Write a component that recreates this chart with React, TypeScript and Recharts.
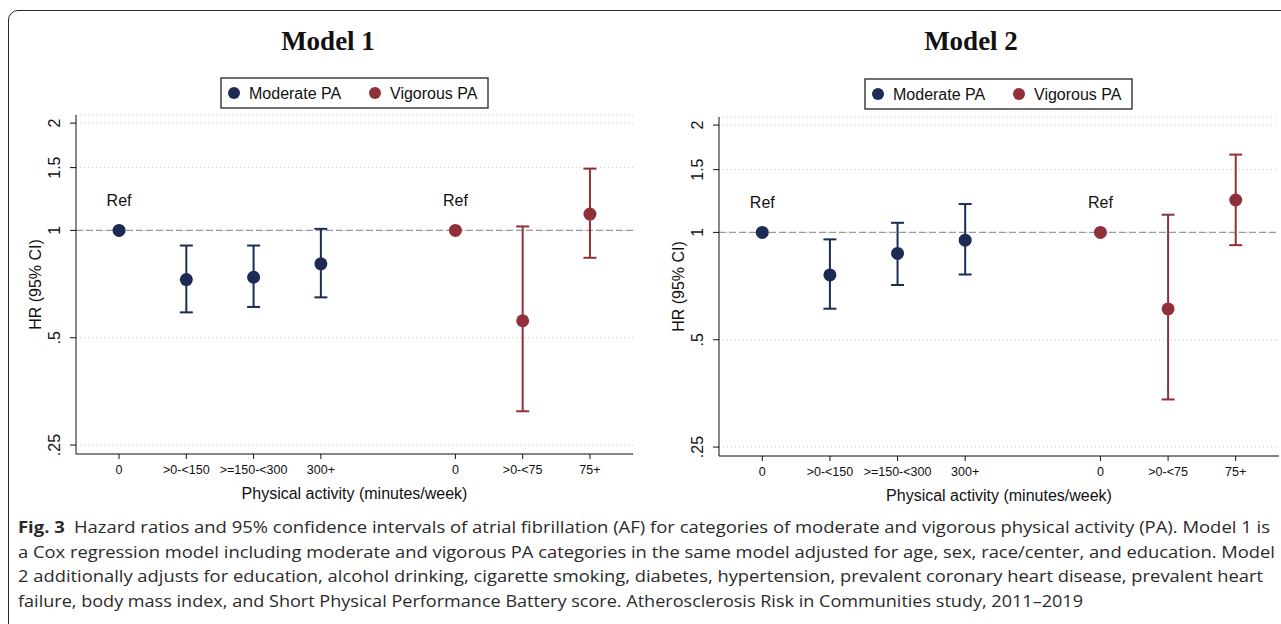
import React from 'react';
import { ComposedChart, Scatter, ErrorBar, XAxis, YAxis, CartesianGrid, ReferenceLine } from 'recharts';

// ---------- data ----------
const xCategories = ['0', '>0-<150', '>=150-<300', '300+', '0', '>0-<75', '75+'];
const xTicks = [1, 2, 3, 4, 6, 7, 8];
const moderateX = [1, 2, 3, 4];
const vigorousX = [6, 7, 8];
const yTicks = [0.25, 0.5, 1, 1.5, 2];
const yTickLabels = ['.25', '.5', '1', '1.5', '2'];
const legendNames = ['Moderate PA', 'Vigorous PA'];
const panelTitles = ['Model 1', 'Model 2'];

// Model 1
const m1ModerateHR = [1, 0.728, 0.739, 0.806];
const m1ModerateLo = [null, 0.589, 0.61, 0.649];
const m1ModerateHi = [null, 0.907, 0.907, 1.01];
const m1VigorousHR = [1, 0.558, 1.111];
const m1VigorousLo = [null, 0.311, 0.838];
const m1VigorousHi = [null, 1.026, 1.49];

// Model 2
const m2ModerateHR = [1, 0.76, 0.873, 0.951];
const m2ModerateLo = [null, 0.611, 0.712, 0.762];
const m2ModerateHi = [null, 0.956, 1.064, 1.201];
const m2VigorousHR = [1, 0.61, 1.233];
const m2VigorousLo = [null, 0.34, 0.921];
const m2VigorousHi = [null, 1.121, 1.653];

const captionLines = [
  'a Cox regression model including moderate and vigorous PA categories in the same model adjusted for age, sex, race/center, and education. Model',
  '2 additionally adjusts for education, alcohol drinking, cigarette smoking, diabetes, hypertension, prevalent coronary heart disease, prevalent heart',
  'failure, body mass index, and Short Physical Performance Battery score. Atherosclerosis Risk in Communities study, 2011\u20132019',
];
const captionBold = 'Fig. 3';
const captionFirst = 'Hazard ratios and 95% confidence intervals of atrial fibrillation (AF) for categories of moderate and vigorous physical activity (PA). Model 1 is';

// ---------- style ----------
const NAVY = '#1c2b56';
const MAROON = '#913039';
const SANS = "'Liberation Sans', Arial, sans-serif";
const SERIF = "'Liberation Serif', 'Times New Roman', serif";
const CAPTION_FONT = "'Open Sans', 'Noto Sans', sans-serif";

type Row = { x: number; y: number; err: number[] | null; ref: boolean };

function buildRows(xs: number[], hr: number[], lo: (number | null)[], hi: (number | null)[]): Row[] {
  return xs.map((x, i) => ({
    x,
    y: hr[i],
    err: lo[i] == null || hi[i] == null ? null : [hr[i] - (lo[i] as number), (hi[i] as number) - hr[i]],
    ref: lo[i] == null,
  }));
}

const makeShape = (color: string) => (props: any) => {
  const { cx, cy, payload } = props;
  if (cx == null || cy == null) return <g />;
  return (
    <g>
      <circle cx={cx} cy={cy} r={6.5} fill={color} />
      {payload && payload.ref ? (
        <text x={cx} y={cy - 24} textAnchor="middle" fontSize={16} fontFamily={SANS} fill="#111">
          Ref
        </text>
      ) : null}
    </g>
  );
};

const YTick = (props: any) => {
  const { x, y, payload } = props;
  const idx = yTicks.indexOf(payload.value);
  const tx = x - 8;
  return (
    <text x={tx} y={y} transform={`rotate(-90 ${tx} ${y})`} textAnchor="middle" fontSize={16} fontFamily={SANS} fill="#111">
      {idx >= 0 ? yTickLabels[idx] : String(payload.value)}
    </text>
  );
};

const xLabel = (v: number) => {
  const i = xTicks.indexOf(v);
  return i >= 0 ? xCategories[i] : '';
};

function Panel(props: { left: number; top: number; width: number; moderate: Row[]; vigorous: Row[] }) {
  const { left, top, width, moderate, vigorous } = props;
  return (
    <div style={{ position: 'absolute', left, top }}>
      <ComposedChart width={width} height={505} margin={{ top: 115, right: 27, bottom: 6, left: 0 }}>
        <CartesianGrid vertical={false} stroke="#c8c8c8" strokeDasharray="1 3" />
        <XAxis
          type="number"
          dataKey="x"
          domain={[0.36, 8.64]}
          ticks={xTicks}
          allowDataOverflow
          tickFormatter={xLabel}
          height={45}
          tickSize={5}
          tickMargin={6}
          stroke="#111"
          tick={{ fontSize: 12.5, fontFamily: SANS, fill: '#111' }}
          label={{
            value: 'Physical activity (minutes/week)',
            position: 'insideBottom',
            offset: 0,
            style: { fontSize: 16, fontFamily: SANS, fill: '#111' },
          }}
        />
        <YAxis
          type="number"
          dataKey="y"
          scale="log"
          domain={[0.236, 2.107]}
          allowDataOverflow
          ticks={yTicks}
          width={76}
          tickSize={6}
          tickMargin={2}
          stroke="#111"
          tick={<YTick />}
          label={{
            value: 'HR (95% CI)',
            angle: -90,
            position: 'insideLeft',
            offset: 35,
            style: { fontSize: 16, fontFamily: SANS, fill: '#111', textAnchor: 'middle' },
          }}
        />
        <ReferenceLine y={1} stroke="#9a9a9a" strokeWidth={1.3} strokeDasharray="7 3" />
        <Scatter name={legendNames[0]} data={moderate} fill={NAVY} isAnimationActive={false} shape={makeShape(NAVY)}>
          <ErrorBar dataKey="err" direction="y" width={6.5} strokeWidth={2} stroke={NAVY} />
        </Scatter>
        <Scatter name={legendNames[1]} data={vigorous} fill={MAROON} isAnimationActive={false} shape={makeShape(MAROON)}>
          <ErrorBar dataKey="err" direction="y" width={6.5} strokeWidth={2} stroke={MAROON} />
        </Scatter>
      </ComposedChart>
    </div>
  );
}

function LegendBox({ x, y }: { x: number; y: number }) {
  return (
    <g>
      <rect x={x} y={y} width={267} height={30} fill="#fff" stroke="#222" strokeWidth={1.3} />
      <circle cx={x + 13} cy={y + 15} r={6} fill={NAVY} />
      <text x={x + 28} y={y + 20.7} fontSize={16} fontFamily={SANS} fill="#111">
        {legendNames[0]}
      </text>
      <circle cx={x + 154} cy={y + 15} r={6} fill={MAROON} />
      <text x={x + 169} y={y + 20.7} fontSize={16} fontFamily={SANS} fill="#111">
        {legendNames[1]}
      </text>
    </g>
  );
}

export default function App() {
  const p1m = buildRows(moderateX, m1ModerateHR, m1ModerateLo, m1ModerateHi);
  const p1v = buildRows(vigorousX, m1VigorousHR, m1VigorousLo, m1VigorousHi);
  const p2m = buildRows(moderateX, m2ModerateHR, m2ModerateLo, m2ModerateHi);
  const p2v = buildRows(vigorousX, m2VigorousHR, m2VigorousLo, m2VigorousHi);
  const lineEnds = [1275, 1263, 1083];
  return (
    <div style={{ position: 'absolute', left: 0, top: 0, width: 1281, height: 624, overflow: 'hidden', background: '#fff' }}>
      <div
        style={{
          position: 'absolute',
          left: 8,
          top: 10,
          width: 1300,
          height: 700,
          border: '1.3px solid #2a2a2a',
          borderRadius: 10,
          boxSizing: 'border-box',
        }}
      />
      <Panel left={0} top={0} width={660} moderate={p1m} vigorous={p1v} />
      <Panel left={643} top={2} width={663} moderate={p2m} vigorous={p2v} />
      <svg
        width={1281}
        height={624}
        style={{ position: 'absolute', left: 0, top: 0, pointerEvents: 'none' }}
      >
        <text x={328} y={50} textAnchor="middle" fontSize={27} fontWeight="bold" fontFamily={SERIF} fill="#111">
          {panelTitles[0]}
        </text>
        <text x={971} y={50} textAnchor="middle" fontSize={27} fontWeight="bold" fontFamily={SERIF} fill="#111">
          {panelTitles[1]}
        </text>
        <LegendBox x={221} y={78} />
        <LegendBox x={865} y={79} />
        <text x={18} y={533} fontSize={16.5} fontFamily={CAPTION_FONT} fill="#2a2a2a" textLength={1252} lengthAdjust="spacingAndGlyphs">
          <tspan fontWeight="bold">{captionBold}</tspan>
          <tspan>{'\u2002' + captionFirst}</tspan>
        </text>
        {captionLines.map((t, i) => (
          <text
            key={i}
            x={18}
            y={557.5 + i * 24.5}
            fontSize={16.5}
            fontFamily={CAPTION_FONT}
            fill="#2a2a2a"
            textLength={lineEnds[i] - 18}
            lengthAdjust="spacingAndGlyphs"
          >
            {t}
          </text>
        ))}
      </svg>
    </div>
  );
}
